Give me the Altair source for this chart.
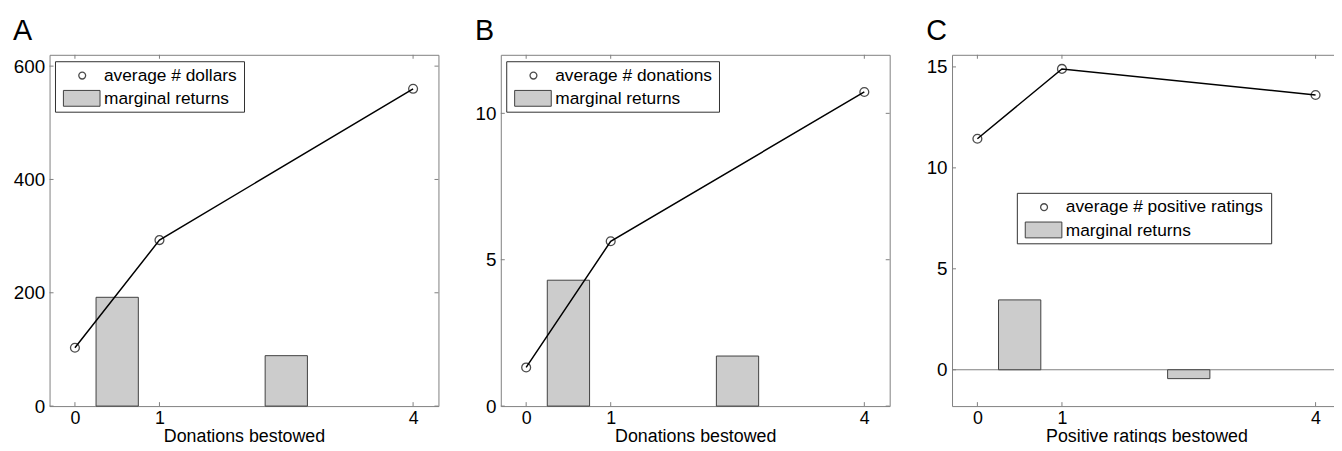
import altair as alt
import pandas as pd

# ---- data ----
x_vals = [0, 1, 4]
avg_dollars = [103, 293, 560]
avg_donations = [1.32, 5.63, 10.73]
avg_ratings = [11.44, 14.90, 13.61]
bar_mid = [0.5, 2.5]
marg_dollars = [192, 89]
marg_donations = [4.30, 1.71]
marg_ratings = [3.46, -0.44]
x_ticks = [0, 1, 4]
yticks_a = [0, 200, 400, 600]
yticks_b = [0, 5, 10]
yticks_c = [0, 5, 10, 15]
legend_a = ["average # dollars", "marginal returns"]
legend_b = ["average # donations", "marginal returns"]
legend_c = ["average # positive ratings", "marginal returns"]
x_title_ab = "Donations bestowed"
x_title_c = "Positive ratings bestowed"
letters = ["A", "B", "C"]

# ---- style ----
W, H = 393, 355
FONT = "Liberation Sans"
FRAME = "#7f7f7f"
TL = 4
BAR_FILL = "#cccccc"
BAR_STROKE = "#404040"


def panel(avg, marg, yticks, ydom, leg, lx, ly, lw, xtitle, letter, tdx, zero):
    xs = alt.Scale(domain=[-0.3, 4.3], nice=False, zero=False)
    ys = alt.Scale(domain=ydom, nice=False, zero=False)
    xax = alt.Axis(values=x_ticks, format="d", title=xtitle, labelFlush=False,
                   titlePadding=0)
    yax = alt.Axis(values=yticks, title=None, labelFlush=False)
    pts = pd.DataFrame({"x": x_vals, "y": avg})
    bars = pd.DataFrame({"mid": bar_mid, "v": marg})
    one = pd.DataFrame({"a": [0]})

    layers = []
    if zero:
        layers.append(
            alt.Chart(one).mark_rule(color=FRAME, strokeWidth=1).encode(
                y=alt.Y("a:Q", scale=ys, axis=yax), x=alt.value(0), x2=alt.value(W)
            )
        )
    layers.append(
        alt.Chart(bars)
        .transform_calculate(xl="datum.mid - 0.25", xr="datum.mid + 0.25", z="0")
        .mark_rect(fill=BAR_FILL, stroke=BAR_STROKE, strokeWidth=1)
        .encode(
            x=alt.X("xl:Q", scale=xs, axis=xax),
            x2="xr:Q",
            y=alt.Y("v:Q", scale=ys, axis=yax),
            y2="z:Q",
        )
    )
    layers.append(
        alt.Chart(pts).mark_line(color="black", strokeWidth=1.5).encode(
            x=alt.X("x:Q", scale=xs, axis=xax),
            y=alt.Y("y:Q", scale=ys, axis=yax),
        )
    )
    layers.append(
        alt.Chart(pts).mark_point(shape="circle", filled=False, size=80,
                                  color="black", strokeWidth=1.3).encode(
            x=alt.X("x:Q", scale=xs, axis=xax), y=alt.Y("y:Q", scale=ys, axis=yax)
        )
    )
    # inward ticks on all four sides
    yt = pd.DataFrame({"t": yticks})
    xt = pd.DataFrame({"t": x_ticks})
    for a, b in [(0, TL), (W - TL, W)]:
        layers.append(
            alt.Chart(yt).mark_rule(color=FRAME).encode(
                y=alt.Y("t:Q", scale=ys, axis=yax), x=alt.value(a), x2=alt.value(b)
            )
        )
    for a, b in [(0, TL), (H - TL, H)]:
        layers.append(
            alt.Chart(xt).mark_rule(color=FRAME).encode(
                x=alt.X("t:Q", scale=xs, axis=xax), y=alt.value(a), y2=alt.value(b)
            )
        )
    # legend
    layers.append(
        alt.Chart(one).mark_rect(fill="white", stroke="#303030", strokeWidth=1).encode(
            x=alt.value(lx), x2=alt.value(lx + lw), y=alt.value(ly), y2=alt.value(ly + 51)
        )
    )
    layers.append(
        alt.Chart(one).mark_point(shape="circle", filled=False, size=48,
                                  color="black", strokeWidth=1.3).encode(
            x=alt.value(lx + 27), y=alt.value(ly + 14)
        )
    )
    layers.append(
        alt.Chart(one).mark_rect(fill=BAR_FILL, stroke=BAR_STROKE, strokeWidth=1).encode(
            x=alt.value(lx + 8), x2=alt.value(lx + 45), y=alt.value(ly + 29), y2=alt.value(ly + 45)
        )
    )
    for i, lab in enumerate(leg):
        layers.append(
            alt.Chart(one).mark_text(font=FONT, fontSize=17.5, align="left",
                                     baseline="middle", color="black").encode(
                x=alt.value(lx + 49), y=alt.value(ly + 14 + 24 * i), text=alt.value(lab)
            )
        )
    return alt.layer(*layers).properties(
        width=W, height=H,
        title=alt.TitleParams(letter, anchor="start", frame="group", dx=tdx,
                              fontSize=29, font=FONT, fontWeight="normal",
                              color="black", offset=8),
    )


pa = panel(avg_dollars, marg_dollars, yticks_a, [0, 620], legend_a, 6, 7, 191,
           x_title_ab, letters[0], -37, False)
pb = panel(avg_donations, marg_donations, yticks_b, [0, 12], legend_b, 6, 7, 215,
           x_title_ab, letters[1], -26, False)
pc = panel(avg_ratings, marg_ratings, yticks_c, [-1.8, 15.6], legend_c, 66, 140, 257,
           x_title_c, letters[2], -26, True)

chart = (
    alt.hconcat(pa, pb, pc, spacing=20)
    .properties(padding={"left": 0, "top": 7, "right": -8, "bottom": -6})
    .configure_view(stroke=FRAME, strokeWidth=1)
    .configure_axis(labelFont=FONT, labelColor="black",
                    titleFont=FONT, titleFontSize=18, titleFontWeight="normal",
                    titleColor="black", domain=False, ticks=False, grid=False)
    .configure_axisX(labelFontSize=18, labelPadding=4)
    .configure_axisY(labelFontSize=19, labelPadding=5, minExtent=41, maxExtent=41)
)

chart.save("out.html", embed_options={"renderer": "svg", "actions": False})
